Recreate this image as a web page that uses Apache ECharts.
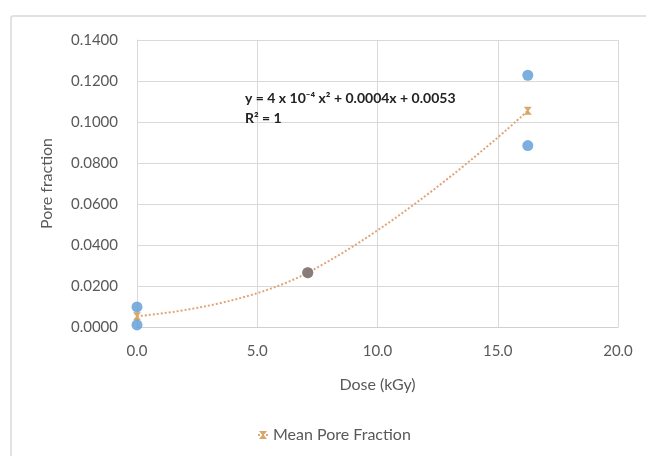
<!DOCTYPE html>
<html>
<head>
<meta charset="utf-8">
<script src="https://cdn.jsdelivr.net/npm/echarts@6/dist/echarts.min.js"></script>
<style>
  html, body { margin: 0; padding: 0; background: #fff; }
  #chart { width: 646px; height: 456px; }
</style>
</head>
<body>
<div id="chart"></div>
<script>
// measured samples (dose, pore fraction)
var sampleDose = [0, 0, 7.1, 7.1, 16.25, 16.25];
var samplePore = [0.0098, 0.0010, 0.0265, 0.0265, 0.1228, 0.0885];

// mean per dose
var meanDose = [0, 7.1, 16.25];
var meanPore = [0.0053, 0.0265, 0.1055];

var xTicks = [0, 5, 10, 15, 20];
var yTicks = [0, 0.02, 0.04, 0.06, 0.08, 0.10, 0.12, 0.14];

var font = "Lato, 'Open Sans', sans-serif";
var grey = "#595959";

var chart = echarts.init(document.getElementById("chart"));

chart.setOption({
  animation: false,
  textStyle: { fontFamily: font },
  grid: { left: 137, right: 28, top: 40, bottom: 129 },
  xAxis: {
    type: "value",
    min: xTicks[0],
    max: xTicks[xTicks.length - 1],
    interval: 5,
    name: "Dose (kGy)",
    nameLocation: "middle",
    nameGap: 50,
    nameTextStyle: { color: grey, fontSize: 16, fontFamily: font },
    axisLine: { show: true, lineStyle: { color: "#d0d0d0", width: 1 } },
    axisTick: { show: false },
    axisLabel: {
      color: grey, fontSize: 15, margin: 17,
      formatter: function (v) { return v.toFixed(1); }
    },
    splitLine: { show: true, lineStyle: { color: "#d9d9d9" } }
  },
  yAxis: {
    type: "value",
    min: yTicks[0],
    max: yTicks[yTicks.length - 1],
    interval: 0.02,
    name: "Pore fraction",
    nameLocation: "middle",
    nameGap: 82,
    nameTextStyle: { color: grey, fontSize: 16, fontFamily: font },
    axisLine: { show: true, lineStyle: { color: "#d9d9d9" } },
    axisTick: { show: false },
    axisLabel: {
      color: grey, fontSize: 15, margin: 19,
      formatter: function (v) { return v.toFixed(4); }
    },
    splitLine: { show: true, lineStyle: { color: "#d9d9d9" } }
  },
  legend: {
    bottom: 8,
    left: 252,
    data: ["Mean Pore Fraction"],
    itemWidth: 10,
    itemHeight: 10,
    itemGap: 4,
    textStyle: { color: grey, fontSize: 16, fontFamily: font }
  },
  graphic: [
    {
      type: "rect",
      silent: true,
      shape: { x: 11, y: 16, width: 700, height: 500, r: 2 },
      style: { fill: "none", stroke: "#d9d9d9", lineWidth: 1.5 }
    },
    {
      type: "text",
      left: 245,
      top: 88,
      z: 10,
      style: {
        text: "y = 4 x 10\u207B\u2074 x\u00B2 + 0.0004x + 0.0053\nR\u00B2 = 1",
        fill: "#222",
        font: "bold 14px " + font,
        lineHeight: 20
      }
    }
  ],
  series: [
    {
      name: "Pore Fraction",
      type: "scatter",
      symbol: "circle",
      symbolSize: 11,
      z: 3,
      itemStyle: {
        color: function (p) { return p.dataIndex >= 2 && p.dataIndex <= 3 ? "#857976" : "#5b9bd5"; }
      },
      data: sampleDose.map(function (d, i) { return [d, samplePore[i]]; })
    },
    {
      name: "Mean Pore Fraction",
      type: "line",
      smooth: 0.45,
      symbol: "path://M0,0 L10,0 L6,5 L10,10 L0,10 L4,5 Z",
      symbolSize: 8,
      showSymbol: true,
      z: 2,
      itemStyle: { color: "#d8a86a" },
      lineStyle: { color: "#e0a57a", width: 2, type: "dotted" },
      data: meanDose.map(function (d, i) { return [d, meanPore[i]]; })
    }
  ]
});
</script>
</body>
</html>
